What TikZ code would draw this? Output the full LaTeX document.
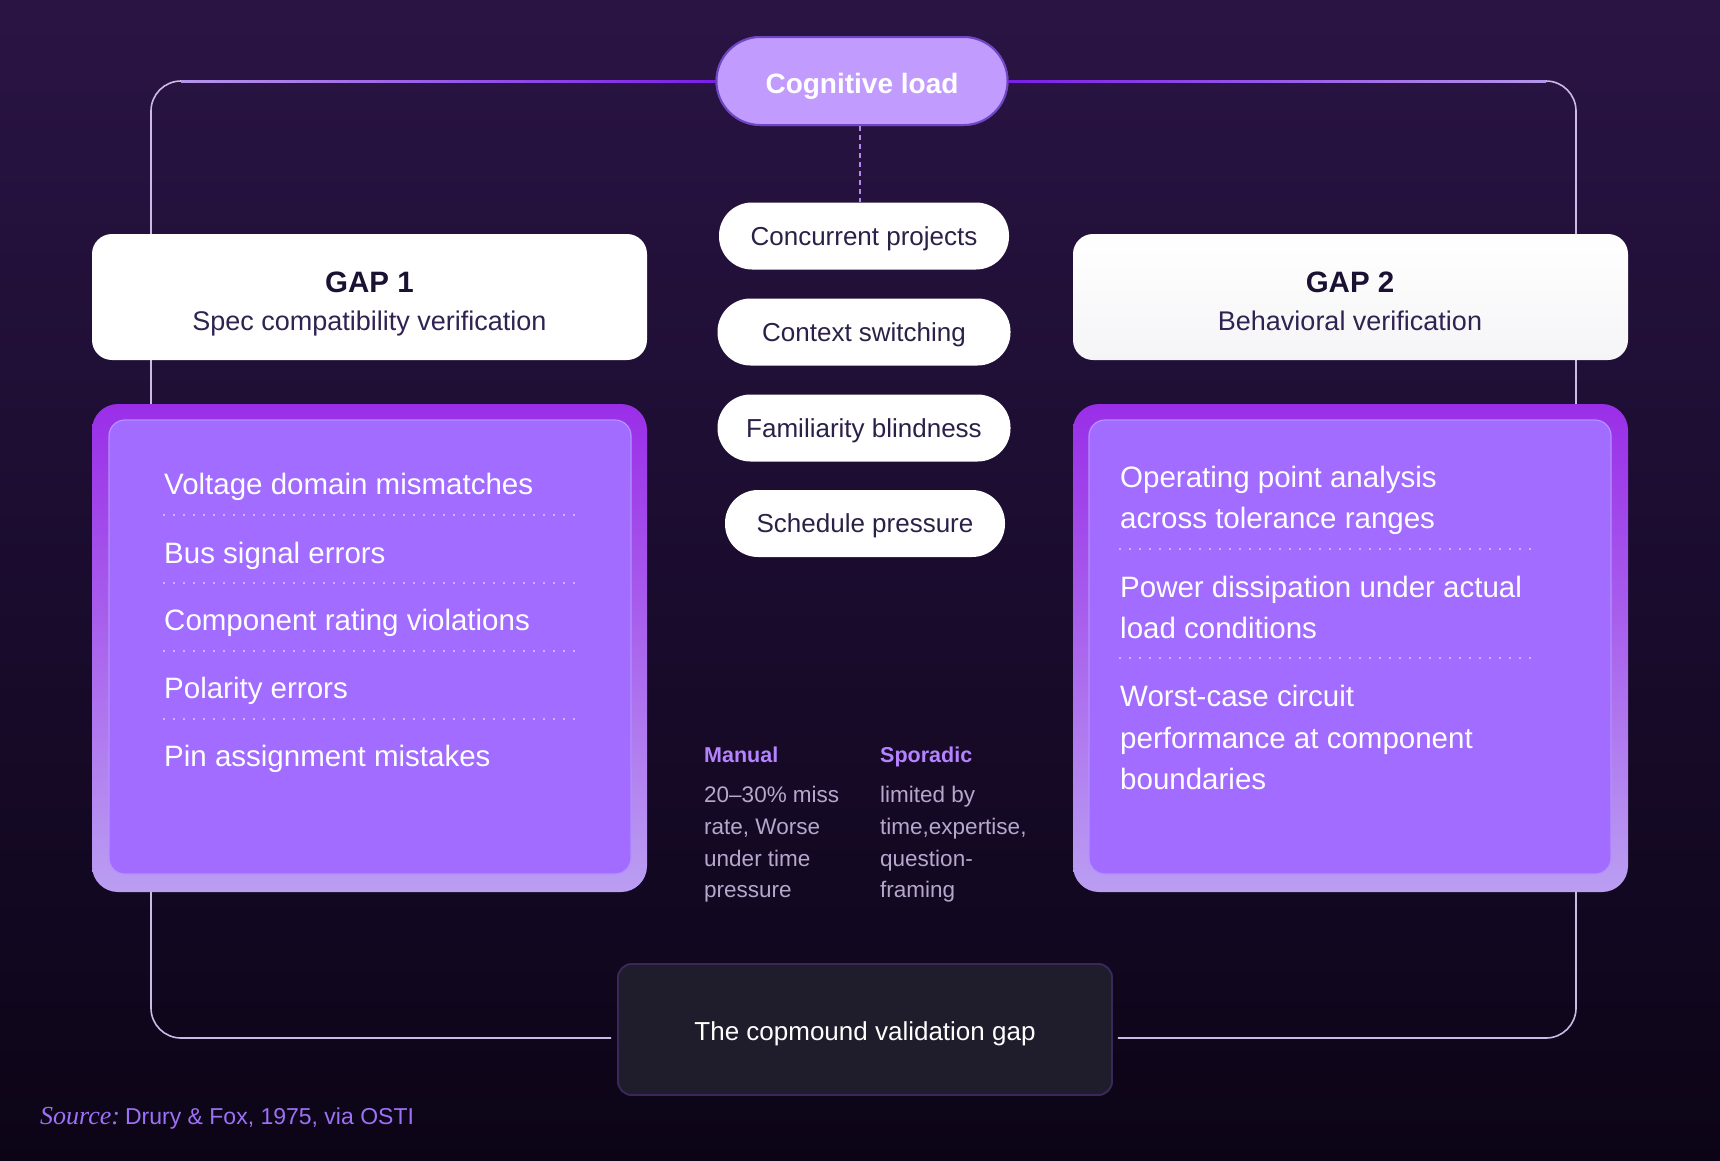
\documentclass[tikz,border=0pt]{standalone}
\usepackage{fontspec}
\setmainfont{Liberation Sans}
\newfontfamily\srcserif{Liberation Serif}
\usetikzlibrary{calc}
\newcommand\fsz[1]{\fontsize{#1}{#1}\selectfont}
\definecolor{bgtop}{HTML}{2A1444}
\definecolor{bgmid}{HTML}{1A0C2E}
\definecolor{bgbot}{HTML}{0C0416}
\definecolor{framecol}{HTML}{CBBBE6}
\definecolor{toplav}{HTML}{B595EA}
\definecolor{topvio}{HTML}{7A1EE6}
\definecolor{cogfill}{HTML}{C29BFF}
\definecolor{cogborder}{HTML}{6E47C2}
\definecolor{dashcol}{HTML}{B48AF0}
\definecolor{pilltext}{HTML}{2B2148}
\definecolor{gaptitle}{HTML}{1B1233}
\definecolor{gapsub}{HTML}{2F2352}
\definecolor{cardtop}{HTML}{9A2EE8}
\definecolor{cardbot}{HTML}{BA9EF2}
\definecolor{cardin}{HTML}{A16CFF}
\definecolor{cardinb}{HTML}{B690FF}
\definecolor{dotcol}{HTML}{DCC8FF}
\definecolor{headcol}{HTML}{B583FF}
\definecolor{bodycol}{HTML}{B6A7CC}
\definecolor{botfill}{HTML}{1F1D2B}
\definecolor{botborder}{HTML}{37295A}
\definecolor{srccol}{HTML}{9D70F5}
\definecolor{gapgray}{HTML}{F5F5F7}
\begin{document}
\begin{tikzpicture}[x=1pt,y=-1pt,
  framel/.style={draw=framecol, line width=1.6pt},
  dashline/.style={draw=dashcol, line width=1.6pt, dash pattern=on 5pt off 4pt},
  cogbox/.style={fill=cogfill, draw=cogborder, line width=2pt, rounded corners=44pt,
    minimum width=291pt, minimum height=88pt, inner sep=0pt, text=white,
    font=\bfseries\fsz{28}, text height=24pt, text depth=0pt},
  pillbox/.style={fill=white, rounded corners=33pt, minimum height=67pt, inner sep=0pt,
    text=pilltext, font=\fsz{26}, text height=18.6pt, text depth=0pt},
  gapbox/.style={fill=white, rounded corners=20pt, minimum width=555pt,
    minimum height=126pt, inner sep=0pt},
  gaptitlestyle/.style={anchor=base, inner sep=0pt, text=gaptitle, font=\bfseries\fsz{29.5}},
  gapsubstyle/.style={anchor=base, inner sep=0pt, text=gapsub, font=\fsz{27}},
  cardout/.style={rounded corners=26pt, minimum width=555pt, minimum height=488pt,
    inner sep=0pt, top color=cardtop, bottom color=cardbot, draw=none},
  cardinner/.style={rounded corners=16pt, minimum width=522pt, minimum height=454pt,
    inner sep=0pt, fill=cardin, draw=cardinb, line width=1.2pt},
  itemtext/.style={anchor=base west, inner sep=0pt, text=white, font=\fsz{29.5}},
  dotline/.style={draw=dotcol, line width=2.4pt, line cap=round, dash pattern=on 0pt off 10pt},
  headtext/.style={anchor=base west, inner sep=0pt, text=headcol, font=\bfseries\fsz{21.5}},
  bodytext/.style={anchor=base west, inner sep=0pt, text=bodycol, font=\fsz{22.5}},
  botbox/.style={fill=botfill, draw=botborder, line width=1.8pt, rounded corners=14pt,
    minimum width=494pt, minimum height=131pt, inner sep=0pt, text=white,
    font=\fsz{26}, text height=21pt, text depth=0pt}
]
\useasboundingbox (0,0) rectangle (1720,1160);
% background
\shade[top color=bgtop, bottom color=bgbot, middle color=bgmid] (0,0) rectangle (1720,1160);

% nodes that the frame connects to
\path (862,81) node[cogbox] (cog) {Cognitive load};
\path (865,1029.5) node[botbox] (bot) {The copmound validation gap};

% frame
\coordinate (ftl) at (151,81);
\coordinate (ftr) at (1576,81);
\coordinate (fbl) at (151,1038);
\coordinate (fbr) at (1576,1038);
\draw[framel, rounded corners=30pt] (cog.west) -- (ftl) -- (fbl) -- ([xshift=-6pt]bot.west |- fbl);
\draw[framel, rounded corners=30pt] (cog.east) -- (ftr) -- (fbr) -- ([xshift=5pt]bot.east |- fbr);
\shade[left color=toplav, right color=topvio] (181,80) rectangle (717,82);
\shade[left color=topvio, right color=toplav] (1006,80) rectangle (1546,82);

% redraw top/bottom nodes over the frame
\path (862,81) node[cogbox] {Cognitive load};
\path (865,1029.5) node[botbox] {The copmound validation gap};

% center pills
\node[pillbox, minimum width=290pt] (c1) at (864,236) {Concurrent projects};
\node[pillbox, minimum width=293pt] (c2) at (864,332) {Context switching};
\node[pillbox, minimum width=293pt] (c3) at (864,428) {Familiarity blindness};
\node[pillbox, minimum width=280pt] (c4) at (865,523.5) {Schedule pressure};
\draw[dashline] ([xshift=-2pt]cog.south) -- ([xshift=-2pt]cog.south |- c1.north);

% gap headers
\node[gapbox] (gap1) at (369.5,297) {};
\node[gapbox, top color=white, bottom color=gapgray, fill=none] (gap2) at (1350.5,297) {};
\node[gaptitlestyle] (g1t) at (369.5,292) {GAP 1};
\node[gapsubstyle] (g1s) at (369.5,330) {Spec compatibility verification};
\node[gaptitlestyle] (g2t) at (1350,292) {GAP 2};
\node[gapsubstyle] (g2s) at (1350,330) {Behavioral verification};

% cards
\node[cardout] (card1) at (369.5,648) {};
\node[cardinner] (card1in) at (370,647) {};
\node[cardout] (card2) at (1350.5,648) {};
\node[cardinner] (card2in) at (1350,647) {};

% left card items
\node[itemtext] (l1) at (164,494) {Voltage domain mismatches};
\node[itemtext] (l2) at (164,563) {Bus signal errors};
\node[itemtext] (l3) at (164,630) {Component rating violations};
\node[itemtext] (l4) at (164,698) {Polarity errors};
\node[itemtext] (l5) at (164,766) {Pin assignment mistakes};
\foreach \yy in {515,583,651,719} \draw[dotline] (164,\yy) -- (577,\yy);

% right card items
\node[itemtext] (r1a) at (1120,487) {Operating point analysis};
\node[itemtext] (r1b) at (1120,528) {across tolerance ranges};
\node[itemtext] (r2a) at (1120,597) {Power dissipation under actual};
\node[itemtext] (r2b) at (1120,638) {load conditions};
\node[itemtext] (r3a) at (1120,706) {Worst-case circuit};
\node[itemtext] (r3b) at (1120,748) {performance at component};
\node[itemtext] (r3c) at (1120,789) {boundaries};
\foreach \yy in {549,658} \draw[dotline] (1120,\yy) -- (1533,\yy);

% manual / sporadic
\node[headtext] (mh) at (704,762) {Manual};
\node[bodytext] (m1) at (704,802) {20–30\% miss};
\node[bodytext] (m2) at (704,834) {rate, Worse};
\node[bodytext] (m3) at (704,866) {under time};
\node[bodytext] (m4) at (704,897) {pressure};
\node[headtext] (sh) at (880,762) {Sporadic};
\node[bodytext] (s1) at (880,802) {limited by};
\node[bodytext] (s2) at (880,834) {time,expertise,};
\node[bodytext] (s3) at (880,866) {question-};
\node[bodytext] (s4) at (880,897) {framing};

% source
\node[anchor=base west, inner sep=0pt, text=srccol] (src) at (40,1124)
  {{\srcserif\itshape\fsz{26}Source:}\hspace{5pt}{\fsz{23}Drury \& Fox, 1975, via OSTI}};
\end{tikzpicture}
\end{document}
